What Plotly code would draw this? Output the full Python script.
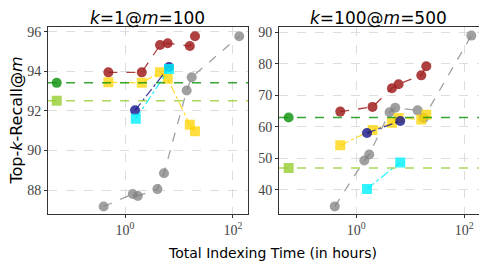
import plotly.graph_objects as go

# ---------------- data ----------------
# left panel: k=1@m=100
L_red_x = [0.49, 2.04, 4.45, 6.17, 15.9, 19.8]
L_red_y = [93.95, 93.95, 95.33, 95.42, 95.28, 95.78]
L_yel_x = [0.49, 2.04, 4.45, 6.17, 15.9, 19.8]
L_yel_y = [93.45, 93.42, 93.95, 93.63, 91.3, 90.97]
L_navy_x = [1.53, 6.53]
L_navy_y = [92.03, 94.22]
L_cyan_x = [1.58, 6.53]
L_cyan_y = [91.6, 94.12]
L_gray_x = [0.40, 1.39, 1.72, 3.97, 5.27, 13.9, 17.2, 131]
L_gray_y = [87.17, 87.8, 87.7, 88.05, 88.85, 93.03, 93.7, 95.78]
L_green_x = [0.054]
L_green_y = [93.42]
L_lgreen_x = [0.054]
L_lgreen_y = [92.52]

# right panel: k=100@m=500
R_red_x = [0.506, 2.0, 4.58, 6.08, 16.0, 19.8]
R_red_y = [64.8, 66.3, 72.2, 73.5, 76.3, 79.2]
R_yel_x = [0.506, 2.0, 4.58, 6.08, 16.0, 19.8]
R_yel_y = [54.1, 59.0, 61.3, 62.8, 62.3, 63.8]
R_navy_x = [1.58, 6.53]
R_navy_y = [58.0, 61.8]
R_cyan_x = [1.58, 6.53]
R_cyan_y = [40.3, 48.7]
R_gray_x = [0.40, 1.41, 1.74, 4.14, 5.27, 13.7, 17.7, 135]
R_gray_y = [34.75, 49.3, 51.2, 64.6, 66.0, 65.2, 62.8, 88.9]
R_green_x = [0.056]
R_green_y = [62.96]
R_lgreen_x = [0.056]
R_lgreen_y = [46.9]

titles = ["<i>k</i>=1@<i>m</i>=100", "<i>k</i>=100@<i>m</i>=500"]
L_yticks = [88, 90, 92, 94, 96]
R_yticks = [40, 50, 60, 70, 80, 90]
x_tickvals = [1, 100]
x_ticktext = ["10<sup>0</sup>", "10<sup>2</sup>"]

# ---------------- styles ----------------
RED = "rgba(160,30,30,0.85)"
YEL = "rgba(255,212,0,0.75)"
NAVY = "rgba(20,20,140,0.8)"
CYAN = "rgba(0,240,255,0.8)"
GRAY = "rgba(128,128,128,0.75)"
GREEN = "rgba(20,150,20,0.85)"
LGREEN = "rgba(150,205,50,0.8)"

fig = go.Figure()

def add(x, y, color, symbol, dash, xa, ya, size=10):
    fig.add_trace(go.Scatter(
        x=x, y=y, mode="lines+markers", xaxis=xa, yaxis=ya,
        line=dict(color=color, width=1.3, dash=dash),
        marker=dict(color=color, size=size, symbol=symbol, line=dict(width=0)),
        showlegend=False))

for (xa, ya, d) in [("x", "y", dict(red=(L_red_x, L_red_y), yel=(L_yel_x, L_yel_y),
                                    navy=(L_navy_x, L_navy_y), cyan=(L_cyan_x, L_cyan_y),
                                    gray=(L_gray_x, L_gray_y), green=(L_green_x, L_green_y),
                                    lgreen=(L_lgreen_x, L_lgreen_y))),
                    ("x2", "y2", dict(red=(R_red_x, R_red_y), yel=(R_yel_x, R_yel_y),
                                      navy=(R_navy_x, R_navy_y), cyan=(R_cyan_x, R_cyan_y),
                                      gray=(R_gray_x, R_gray_y), green=(R_green_x, R_green_y),
                                      lgreen=(R_lgreen_x, R_lgreen_y)))]:
    # horizontal reference lines
    fig.add_shape(type="line", xref=xa + " domain", yref=ya, x0=0, x1=1,
                  y0=d["green"][1][0], y1=d["green"][1][0],
                  line=dict(color=GREEN, width=1.5, dash="dash"))
    fig.add_shape(type="line", xref=xa + " domain", yref=ya, x0=0, x1=1,
                  y0=d["lgreen"][1][0], y1=d["lgreen"][1][0],
                  line=dict(color=LGREEN, width=1.5, dash="dash"))
    add(*d["gray"], GRAY, "circle", "dash", xa, ya)
    add(*d["red"], RED, "circle", "dash", xa, ya)
    add(*d["yel"], YEL, "square", "dashdot", xa, ya)
    add(*d["navy"], NAVY, "circle", "dashdot", xa, ya)
    add(*d["cyan"], CYAN, "square", "dashdot", xa, ya)
    add(*d["green"], GREEN, "circle", "solid", xa, ya)
    add(*d["lgreen"], LGREEN, "square", "solid", xa, ya)

tickfont = dict(family="Liberation Serif, DejaVu Serif, serif", size=14, color="#444")
axis_common = dict(showline=True, linecolor="#333", linewidth=1, mirror=True,
                   ticks="outside", ticklen=3, tickcolor="#333",
                   showgrid=True, gridcolor="#dddddd", griddash="dash", gridwidth=1,
                   zeroline=False, tickfont=tickfont)

# page has an 8px body margin, so the figure is 8px smaller than the window
fig.update_layout(
    width=479, height=261,
    margin=dict(l=0, r=0, t=0, b=0),
    paper_bgcolor="white", plot_bgcolor="white",
    xaxis=dict(domain=[0.0835, 0.501], type="log", range=[-1.43, 2.28],
               tickvals=x_tickvals, ticktext=x_ticktext, anchor="y", **axis_common),
    xaxis2=dict(domain=[0.5658, 0.9875], type="log", range=[-1.43, 2.31],
                tickvals=x_tickvals, ticktext=x_ticktext, anchor="y2", **axis_common),
    yaxis=dict(domain=[0.2107, 0.9349], range=[86.77, 96.25], tickvals=L_yticks,
               anchor="x", **axis_common),
    yaxis2=dict(domain=[0.2107, 0.9349], range=[32.2, 91.67], tickvals=R_yticks,
                anchor="x2", **axis_common),
)

sans = "DejaVu Sans, Liberation Sans, sans-serif"
fig.add_annotation(text=titles[0], x=0.292, y=1, xref="paper", yref="paper",
                   showarrow=False, font=dict(family=sans, size=17, color="black"),
                   xanchor="center", yanchor="top", borderpad=0, yshift=3)
fig.add_annotation(text=titles[1], x=0.7745, y=1, xref="paper", yref="paper",
                   showarrow=False, font=dict(family=sans, size=17, color="black"),
                   xanchor="center", yanchor="top", borderpad=0, yshift=3)
fig.add_annotation(text="Total Indexing Time (in hours)", x=0.553, y=0.062,
                   xref="paper", yref="paper", showarrow=False,
                   font=dict(family=sans, size=14, color="black"),
                   xanchor="center", yanchor="middle")
fig.add_annotation(text="Top-<i>k</i>-Recall@<i>m</i>", x=0, y=0.571,
                   xref="paper", yref="paper", showarrow=False, textangle=-90,
                   font=dict(family=sans, size=16, color="black"),
                   xanchor="left", yanchor="middle", borderpad=0, xshift=-2)

fig.write_html("out.html")
